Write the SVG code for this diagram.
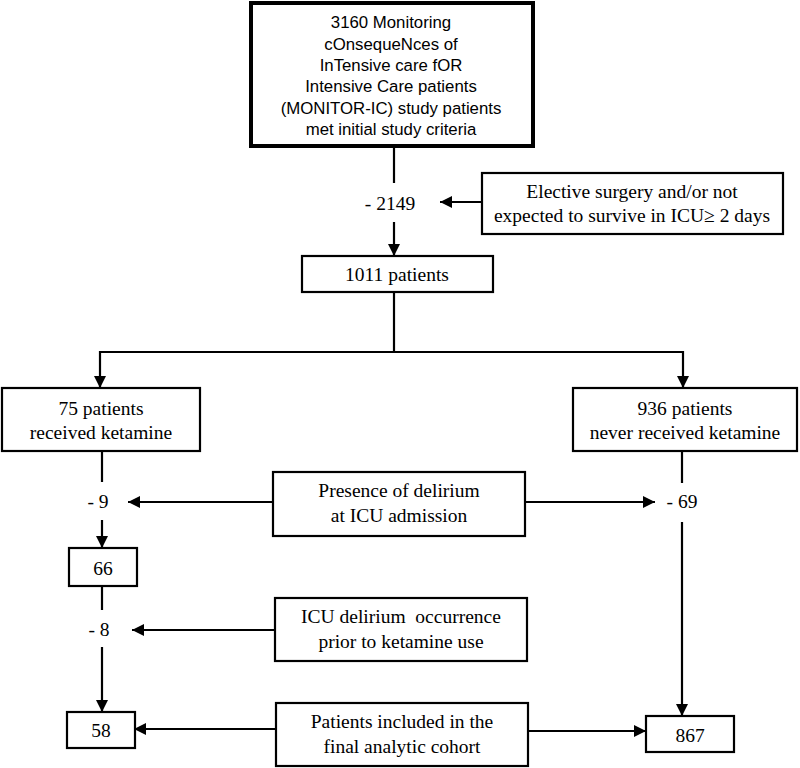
<svg xmlns="http://www.w3.org/2000/svg" width="800" height="768" viewBox="0 0 800 768">
<defs>
<style>
.box{fill:#fff;stroke:#000;stroke-width:2.2}
.thick{fill:#fff;stroke:#000;stroke-width:4}
.ar{font-family:"Liberation Sans",Arial,sans-serif;font-size:16.8px;fill:#000;text-anchor:middle}
.tm{font-family:"Liberation Serif","Times New Roman",serif;font-size:19.5px;fill:#000;text-anchor:middle;white-space:pre}
.ln{fill:none;stroke:#000;stroke-width:2.2}
.lna{fill:none;stroke:#000;stroke-width:2.2;marker-end:url(#ah)}
</style>
<marker id="ah" viewBox="0 0 10 10" refX="10" refY="5" markerWidth="5.5" markerHeight="5.5" markerUnits="strokeWidth" orient="auto">
<path d="M0,0 L10,5 L0,10 z" fill="#000"/>
</marker>
</defs>
<rect width="800" height="768" fill="#fff"/>

<g id="connectors">
<line class="ln" x1="394" y1="146" x2="394" y2="183"/>
<line class="lna" x1="394" y1="222" x2="394" y2="256"/>
<line class="lna" x1="482" y1="202" x2="440" y2="202"/>
<line class="ln" x1="394" y1="292" x2="394" y2="352"/>
<line class="ln" x1="100" y1="352" x2="683" y2="352"/>
<line class="lna" x1="100" y1="351" x2="100" y2="388"/>
<line class="lna" x1="683" y1="351" x2="683" y2="388"/>
<line class="ln" x1="102" y1="451" x2="102" y2="482"/>
<line class="lna" x1="102" y1="520" x2="102" y2="548"/>
<line class="lna" x1="273" y1="502" x2="128" y2="502"/>
<line class="lna" x1="525" y1="502" x2="655" y2="502"/>
<line class="ln" x1="682" y1="451" x2="682" y2="483"/>
<line class="lna" x1="682" y1="522" x2="682" y2="716"/>
<line class="ln" x1="102" y1="586" x2="102" y2="610"/>
<line class="lna" x1="102" y1="647" x2="102" y2="712"/>
<line class="lna" x1="275" y1="630" x2="132" y2="630"/>
<line class="lna" x1="276" y1="729" x2="134" y2="729"/>
<line class="lna" x1="528" y1="731" x2="646" y2="731"/>
</g>

<g id="n_start">
<rect class="thick" x="251" y="3" width="282" height="143"/>
<text class="ar" x="391" y="28">3160 Monitoring</text>
<text class="ar" x="391" y="50">cOnsequeNces of</text>
<text class="ar" x="391" y="71">InTensive care fOR</text>
<text class="ar" x="391" y="92">Intensive Care patients</text>
<text class="ar" x="391" y="114">(MONITOR-IC) study patients</text>
<text class="ar" x="391" y="135">met initial study criteria</text>
</g>

<g id="n_minus2149"><text class="tm" x="390" y="210">- 2149</text></g>

<g id="n_elective">
<rect class="box" x="482" y="173" width="301" height="61"/>
<text class="tm" x="632" y="198">Elective surgery and/or not</text>
<text class="tm" x="632" y="222">expected to survive in ICU≥ 2 days</text>
</g>

<g id="n_1011">
<rect class="box" x="302" y="256" width="191" height="36"/>
<text class="tm" x="397" y="281">1011 patients</text>
</g>

<g id="n_75">
<rect class="box" x="2" y="388" width="198" height="63"/>
<text class="tm" x="101" y="415">75 patients</text>
<text class="tm" x="101" y="439">received ketamine</text>
</g>

<g id="n_936">
<rect class="box" x="573" y="388" width="224" height="63"/>
<text class="tm" x="685" y="415">936 patients</text>
<text class="tm" x="685" y="439">never received ketamine</text>
</g>

<g id="n_minus9"><text class="tm" x="98" y="508">- 9</text></g>

<g id="n_presence">
<rect class="box" x="273" y="472" width="252" height="64"/>
<text class="tm" x="399" y="497">Presence of delirium</text>
<text class="tm" x="399" y="522">at ICU admission</text>
</g>

<g id="n_minus69"><text class="tm" x="682" y="508">- 69</text></g>

<g id="n_66">
<rect class="box" x="69" y="548" width="68" height="38"/>
<text class="tm" x="103" y="575">66</text>
</g>

<g id="n_minus8"><text class="tm" x="99" y="636">- 8</text></g>

<g id="n_icu">
<rect class="box" x="275" y="598" width="252" height="63"/>
<text class="tm" x="401" y="623">ICU delirium  occurrence</text>
<text class="tm" x="401" y="648">prior to ketamine use</text>
</g>

<g id="n_58">
<rect class="box" x="67" y="712" width="68" height="36"/>
<text class="tm" x="101" y="737">58</text>
</g>

<g id="n_included">
<rect class="box" x="276" y="703" width="252" height="63"/>
<text class="tm" x="402" y="728">Patients included in the</text>
<text class="tm" x="402" y="753">final analytic cohort</text>
</g>

<g id="n_867">
<rect class="box" x="646" y="716" width="88" height="36"/>
<text class="tm" x="690" y="742">867</text>
</g>
</svg>
